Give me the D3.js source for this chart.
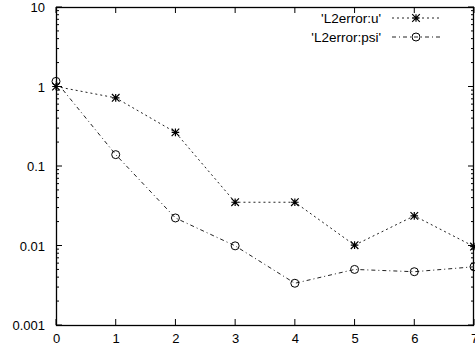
<!DOCTYPE html>
<html>
<head>
<meta charset="utf-8">
<script src="https://cdn.jsdelivr.net/npm/d3@7"></script>
<style>
  html, body { margin: 0; padding: 0; background: #fff; }
  svg { display: block; }
  text { font-family: "Liberation Sans", Arial, Helvetica, sans-serif; font-size: 13px; fill: #000; }
</style>
</head>
<body>
<svg id="chart" width="475" height="352"></svg>
<script>
// Iteration index on x, L2 error on a log y axis
const iterations = [0, 1, 2, 3, 4, 5, 6, 7];
const errorU   = [1.0, 0.72, 0.265, 0.035, 0.035, 0.0101, 0.0236, 0.0097];
const errorPsi = [1.16, 0.139, 0.0222, 0.0099, 0.00335, 0.0050, 0.00468, 0.0054];
const seriesNames = ["'L2error:u'", "'L2error:psi'"];
const xTicks = [0, 1, 2, 3, 4, 5, 6, 7];
const yTicks = [0.001, 0.01, 0.1, 1, 10];
const yTickLabels = ["0.001", "0.01", "0.1", "1", "10"];

const svg = d3.select("#chart");
const m = { left: 56, right: 474, top: 7, bottom: 325 };

const x = d3.scaleLinear().domain([0, 7]).range([m.left, m.right]);
const y = d3.scaleLog().domain([0.001, 10]).range([m.bottom, m.top]);

// minor log ticks 2..9 within each decade
const minorTicks = [];
yTicks.slice(0, -1).forEach(d => { for (let k = 2; k <= 9; k++) minorTicks.push(d * k); });

const axisG = svg.append("g");

// left axis: major labels (tick marks drawn separately, inward)
const leftAxis = d3.axisLeft(y).tickValues(yTicks)
  .tickFormat((d, i) => yTickLabels[i]).tickSize(0).tickPadding(11);
axisG.append("g").attr("transform", `translate(${m.left},0)`).call(leftAxis)
  .call(g => g.select(".domain").remove())
  .call(g => g.selectAll("text").attr("dy", "0.36em"));

// bottom axis labels
const bottomAxis = d3.axisBottom(x).tickValues(xTicks).tickFormat(d3.format("d"))
  .tickSize(0).tickPadding(9);
axisG.append("g").attr("transform", `translate(0,${m.bottom})`).call(bottomAxis)
  .call(g => g.select(".domain").remove());

axisG.selectAll(".tick text")
  .style("font-family", "'Liberation Sans', Arial, sans-serif")
  .style("font-size", "13px").attr("fill", "#000");

// tick marks on all four sides, pointing into the plot
const tickG = svg.append("g").attr("stroke", "#000").attr("stroke-width", 1);
yTicks.forEach(d => {
  tickG.append("line").attr("x1", m.left).attr("x2", m.left + 6).attr("y1", y(d)).attr("y2", y(d));
  tickG.append("line").attr("x1", m.right).attr("x2", m.right - 6).attr("y1", y(d)).attr("y2", y(d));
});
minorTicks.forEach(d => {
  tickG.append("line").attr("x1", m.left).attr("x2", m.left + 3).attr("y1", y(d)).attr("y2", y(d));
  tickG.append("line").attr("x1", m.right).attr("x2", m.right - 3).attr("y1", y(d)).attr("y2", y(d));
});
xTicks.forEach(d => {
  tickG.append("line").attr("x1", x(d)).attr("x2", x(d)).attr("y1", m.bottom).attr("y2", m.bottom - 6);
  tickG.append("line").attr("x1", x(d)).attr("x2", x(d)).attr("y1", m.top).attr("y2", m.top + 6);
});

// frame
svg.append("rect").attr("x", m.left + 0.5).attr("y", m.top + 0.5)
  .attr("width", m.right - m.left - 1).attr("height", m.bottom - m.top)
  .attr("fill", "none").attr("stroke", "#000").attr("stroke-width", 1.3);

// markers
function star(g, cx, cy) {
  const r = 3.8;
  const p = `M${cx - r},${cy}H${cx + r}M${cx},${cy - r}V${cy + r}` +
            `M${cx - r},${cy - r}L${cx + r},${cy + r}M${cx - r},${cy + r}L${cx + r},${cy - r}`;
  g.append("path").attr("d", p).attr("stroke", "#000").attr("stroke-width", 1.2).attr("fill", "none");
}
function circle(g, cx, cy) {
  g.append("circle").attr("cx", cx).attr("cy", cy).attr("r", 4)
    .attr("fill", "none").attr("stroke", "#000").attr("stroke-width", 1);
}

const series = [
  { name: seriesNames[0], values: errorU, dash: "2,3", marker: star },
  { name: seriesNames[1], values: errorPsi, dash: "4,3,1,3", marker: circle }
];

const line = d3.line().x(d => x(d[0])).y(d => y(d[1]));
const plotG = svg.append("g");

series.forEach((s, si) => {
  const pts = iterations.map((it, i) => [it, s.values[i]]);
  plotG.append("path").datum(pts).attr("d", line)
    .attr("fill", "none").attr("stroke", "#222").attr("stroke-width", 1)
    .attr("stroke-dasharray", s.dash);
  pts.forEach(p => s.marker(plotG, x(p[0]), y(p[1])));

  // legend entry
  const ly = 18 + si * 19;
  svg.append("text").attr("x", 381).attr("y", ly).attr("dy", "0.36em")
    .attr("text-anchor", "end").style("font-size", "13.5px").text(s.name);
  svg.append("line").attr("x1", 392).attr("x2", 440).attr("y1", ly).attr("y2", ly)
    .attr("stroke", "#222").attr("stroke-width", 1).attr("stroke-dasharray", s.dash);
  s.marker(svg, 416, ly);
});
</script>
</body>
</html>
